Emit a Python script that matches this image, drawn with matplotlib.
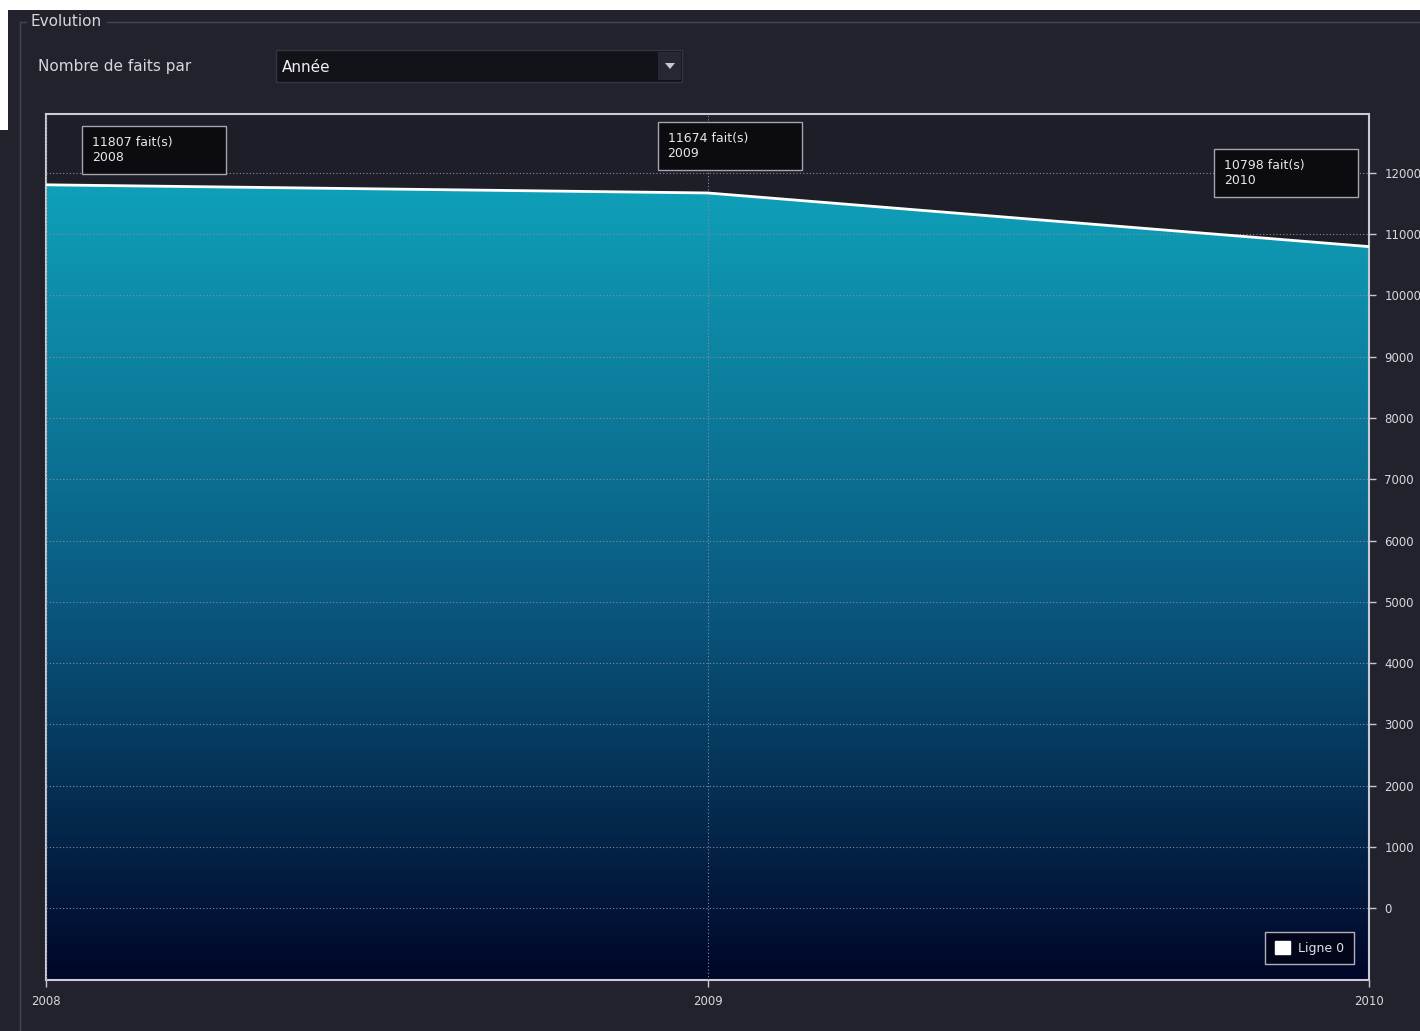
import numpy as np
import matplotlib
matplotlib.use("Agg")
import matplotlib.pyplot as plt
from matplotlib.patches import Rectangle, Polygon, Patch
from matplotlib.lines import Line2D
from matplotlib.colors import LinearSegmentedColormap
from matplotlib.transforms import IdentityTransform

# data
years = [2008, 2009, 2010]
counts = [11807, 11674, 10798]
y_ticks = list(range(0, 13000, 1000))
series_name = "Ligne 0"
unit = "fait(s)"

W, H = 1420, 1031
BG = "#21222b"
FG = "#d6d6dc"

def fx(px):
    return px / W

def fy(py):
    return 1 - py / H

fig = plt.figure(figsize=(W / 100, H / 100), dpi=100, facecolor=BG)

# white strips of the screenshot
fig.patches.append(Rectangle((0, fy(10)), 1, 10 / H, transform=fig.transFigure,
                             facecolor="white", edgecolor="none", zorder=0))
fig.patches.append(Rectangle((0, fy(130)), 8 / W, 120 / H, transform=fig.transFigure,
                             facecolor="white", edgecolor="none", zorder=0))

# group box
gb = "#45464f"
fig.lines.append(Line2D([fx(20), fx(26)], [fy(22), fy(22)], transform=fig.transFigure, color=gb, lw=1))
fig.lines.append(Line2D([fx(107), 1], [fy(22), fy(22)], transform=fig.transFigure, color=gb, lw=1))
fig.lines.append(Line2D([fx(20), fx(20)], [fy(22), 0], transform=fig.transFigure, color=gb, lw=1))
fig.text(fx(30), fy(22), "Evolution", color=FG, fontsize=11, va="center", ha="left")

# selector row
fig.text(fx(38), fy(66), "Nombre de faits par", color=FG, fontsize=11, va="center", ha="left")
fig.patches.append(Rectangle((fx(276), fy(82)), 406 / W, 32 / H, transform=fig.transFigure,
                             facecolor="#121219", edgecolor="#34353f", lw=1))
fig.patches.append(Rectangle((fx(658), fy(80)), 23 / W, 28 / H, transform=fig.transFigure,
                             facecolor="#262733", edgecolor="none"))
fig.patches.append(Polygon([(fx(665), fy(63)), (fx(675), fy(63)), (fx(670), fy(69))],
                           closed=True, transform=fig.transFigure, facecolor="#c8c8d0", edgecolor="none"))
fig.text(fx(282), fy(67), "Année", color="#f0f0f0", fontsize=11, va="center", ha="left")

# chart
ax = fig.add_axes([fx(46), fy(980), (1369 - 46) / W, (980 - 114) / H])
ax.set_facecolor("#1d1e27")
ax.set_xlim(years[0], years[-1])
ax.set_ylim(-1175, 12963)

cmap = LinearSegmentedColormap.from_list("grad", [(0, "#000628"), (0.5, "#0a5d84"), (1, "#0fa0b9")])
grad = np.linspace(0, 1, 256).reshape(-1, 1)
im = ax.imshow(grad, cmap=cmap, origin="lower", aspect="auto",
               extent=[years[0], years[-1], -1175, max(counts)], zorder=1)
clip = Polygon(list(zip(years, counts)) + [(years[-1], -1175), (years[0], -1175)],
               closed=True, transform=ax.transData)
im.set_clip_path(clip)
ax.plot(years, counts, color="white", lw=2, zorder=3)

ax.set_xticks(years)
ax.set_xticklabels([str(y) for y in years])
ax.yaxis.tick_right()
ax.set_yticks(y_ticks)
ax.set_yticklabels([str(v) for v in y_ticks])
ax.tick_params(axis="both", colors="#c8c8d0", labelcolor="#d8d8de", labelsize=8.5, length=5, width=1)
ax.tick_params(axis="x", pad=6)
ax.tick_params(axis="y", pad=6)
ax.grid(True, color="#8a8c9c", linestyle=(0, (1, 2)), linewidth=0.8, zorder=2)
ax.set_axisbelow(False)
for s in ax.spines.values():
    s.set_color("#c9cad6")
    s.set_linewidth(1.5)

# value boxes (offsets in pixels from the data point)
offsets = [(36, 11), (-50, 23), (-155, 50)]
fig.canvas.draw()
for yr, c, (dx, dy) in zip(years, counts, offsets):
    px, py = ax.transData.transform((yr, c))
    x0, y0 = px + dx, py + dy
    ax.add_patch(Rectangle((x0, y0), 144, 48, transform=IdentityTransform(),
                           facecolor="#0b0b10", edgecolor="#a4a4ac", lw=1, zorder=5, clip_on=False))
    ax.text(x0 + 10, y0 + 38, f"{c} {unit}\n{yr}", transform=IdentityTransform(),
            color="#e8e8ec", fontsize=9, va="top", ha="left", linespacing=1.2, zorder=6)

leg = ax.legend(handles=[Patch(facecolor="white", edgecolor="white", label=series_name)],
                loc="lower right", bbox_to_anchor=(1 - 15 / 1323, 16 / 866),
                borderaxespad=0, fontsize=9, frameon=True, fancybox=False,
                handlelength=1.2, handleheight=1.2, handletextpad=0.7, borderpad=0.75)
leg.get_frame().set_facecolor("#03061a")
leg.get_frame().set_edgecolor("#b0b0b8")
leg.get_frame().set_alpha(1)
for t in leg.get_texts():
    t.set_color("#e0e0e6")

fig.savefig("out.png", dpi=100, facecolor=BG)
